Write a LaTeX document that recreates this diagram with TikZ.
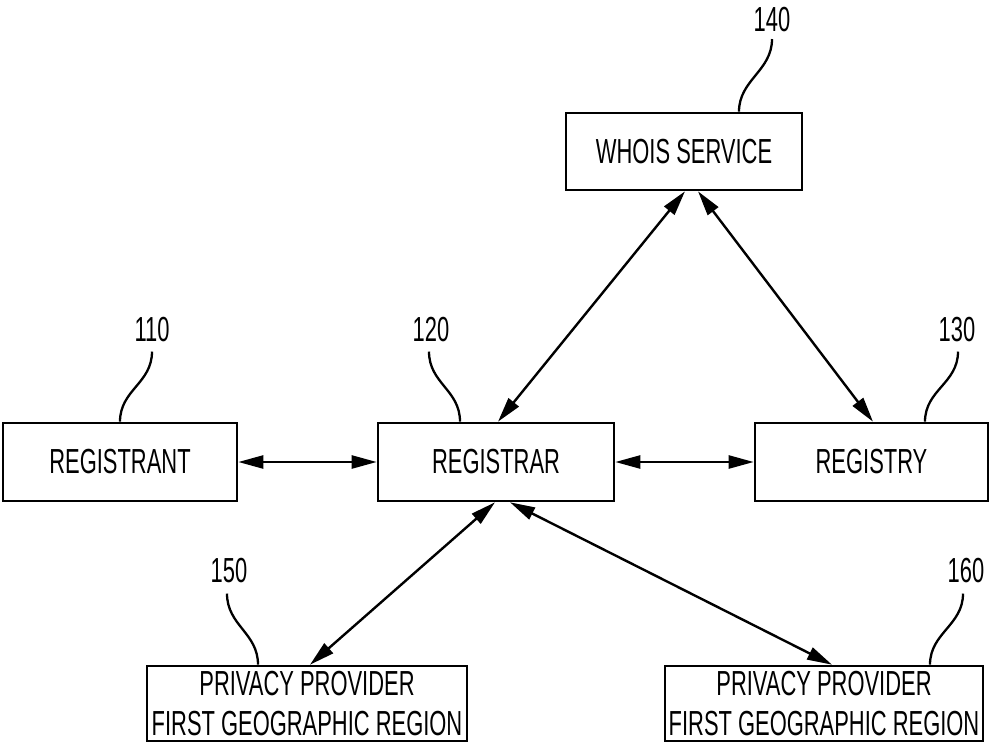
\documentclass[tikz,border=0pt]{standalone}
\usepackage{fontspec}
\setmainfont{Liberation Sans}[FakeStretch=0.63]
\usetikzlibrary{arrows.meta,calc}
\begin{document}
\begin{tikzpicture}[x=1pt,y=-1pt,
  txt/.style={font=\fontsize{34.8}{40}\selectfont},
  box/.style={draw,line width=2.6pt,inner sep=0pt,align=center,txt},
  num/.style={inner sep=0pt,txt},
  link/.style={line width=2.4pt,{Triangle[length=25pt,width=13pt]}-{Triangle[length=25pt,width=13pt]}},
  lead/.style={line width=2.3pt}]
\useasboundingbox (0,0) rectangle (989,745);
% boxes
\node[box,minimum width=236pt,minimum height=77pt] (whois) at (684,151.5) {WHOIS SERVICE};
\node[box,minimum width=234pt,minimum height=78pt] (registrant) at (120,462) {REGISTRANT};
\node[box,minimum width=236pt,minimum height=78pt] (registrar) at (496,462) {REGISTRAR};
\node[box,minimum width=233pt,minimum height=78pt] (registry) at (871.5,462) {REGISTRY};
\node[box,minimum width=320pt,minimum height=75pt] (pp1) at (307,703.5) {PRIVACY PROVIDER\\FIRST GEOGRAPHIC REGION};
\node[box,minimum width=318pt,minimum height=75pt] (pp2) at (824,703.5) {PRIVACY PROVIDER\\FIRST GEOGRAPHIC REGION};
% reference numbers
\node[num] (l140) at (772,19.5) {140};
\node[num] (l110) at (152,330) {110};
\node[num] (l120) at (431,330) {120};
\node[num] (l130) at (957,330) {130};
\node[num] (l150) at (229,571) {150};
\node[num] (l160) at (966,571) {160};
% leaders
\draw[lead] ([yshift=-7pt]l140.south) .. controls +(0,32) and +(0,-32) .. ($(whois.north)+(55,0)$);
\draw[lead] ([yshift=-9pt]l110.south) .. controls +(0,32) and +(0,-32) .. ($(registrant.north)+(0,0)$);
\draw[lead] ([xshift=-2pt,yshift=-9pt]l120.south) .. controls +(0,32) and +(0,-32) .. ($(registrar.north)+(-36,0)$);
\draw[lead] ([xshift=1pt,yshift=-9pt]l130.south) .. controls +(0,32) and +(0,-32) .. ($(registry.north)+(53.5,0)$);
\draw[lead] ([xshift=-2pt,yshift=-10pt]l150.south) .. controls +(0,32) and +(0,-32) .. ($(pp1.north)+(-49,0)$);
\draw[lead] ([xshift=-3pt,yshift=-10pt]l160.south) .. controls +(0,32) and +(0,-32) .. ($(pp2.north)+(106,0)$);
% connectors
\draw[link] (registrant.east) -- (registrar.west);
\draw[link] (registrar.east) -- (registry.west);
\draw[link] ($(whois.south)+(1,0)$) -- ($(registrar.north)+(2,0)$);
\draw[link] ($(whois.south)+(14,0)$) -- ($(registry.north)+(1.5,0)$);
\draw[link] ($(registrar.south)+(-1,0)$) -- ($(pp1.north)+(3,0)$);
\draw[link] ($(registrar.south)+(14,0)$) -- ($(pp2.north)+(8,0)$);
\end{tikzpicture}
\end{document}
